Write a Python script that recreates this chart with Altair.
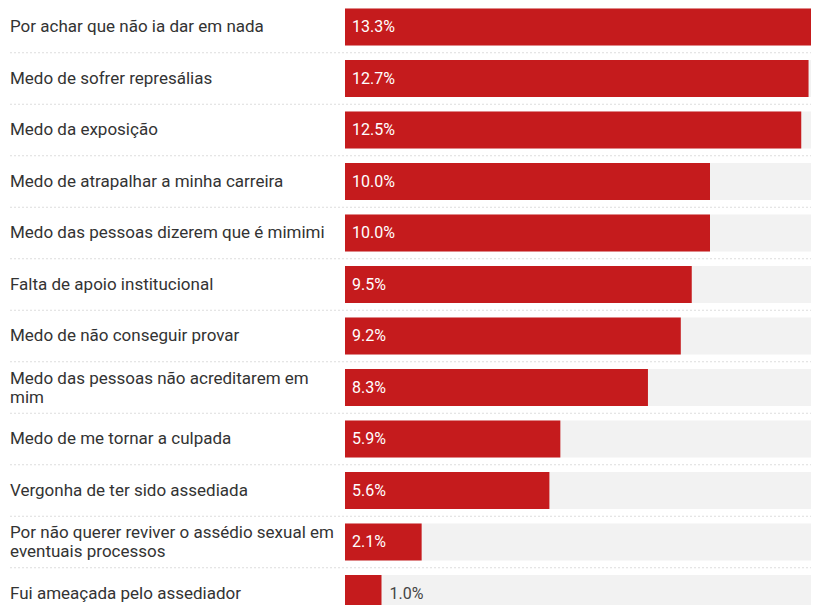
import altair as alt
import pandas as pd

categories = [
    "Por achar que não ia dar em nada",
    "Medo de sofrer represálias",
    "Medo da exposição",
    "Medo de atrapalhar a minha carreira",
    "Medo das pessoas dizerem que é mimimi",
    "Falta de apoio institucional",
    "Medo de não conseguir provar",
    "Medo das pessoas não acreditarem em\nmim",
    "Medo de me tornar a culpada",
    "Vergonha de ter sido assediada",
    "Por não querer reviver o assédio sexual em\neventuais processos",
    "Fui ameaçada pelo assediador",
]
values = [13.3, 12.7, 12.5, 10.0, 10.0, 9.5, 9.2, 8.3, 5.9, 5.6, 2.1, 1.0]

df = pd.DataFrame({"cat": categories, "val": values})
df["label"] = df["val"].map(lambda v: f"{v:.1f}%")
df["inside"] = df["val"] >= 1.5
df["multi"] = df["cat"].str.contains("\n")

W = 466
H = 597
STEP = 51.5
BAND = 37
PX_PER_PCT = 36.5
RED = "#c51b1d"
FONT = "Roboto"
n = len(categories)
pad_inner = (STEP - BAND) / STEP

y = alt.Y("cat:N", sort=categories, axis=None,
          scale=alt.Scale(paddingInner=pad_inner, paddingOuter=0,
                          range=[0.5, 0.5 + STEP * (n - pad_inner)]))
xq = alt.X("val:Q", axis=None,
           scale=alt.Scale(domain=[0, W / PX_PER_PCT], nice=False, zero=True))

base = alt.Chart(df)

seps = base.mark_rule(strokeDash=[2, 2], color="#dddddd", strokeWidth=1,
                      yOffset=STEP / 2).encode(
    y=y, x=alt.value(-335), x2=alt.value(W)
).transform_filter(alt.datum.cat != categories[-1])

track = base.mark_bar(color="#f2f2f2").encode(y=y, x=alt.value(0), x2=alt.value(W))

bars = base.mark_bar(color=RED).encode(y=y, x=xq)

cat_single = base.transform_filter(~alt.datum.multi).mark_text(
    align="left", baseline="middle", font=FONT, fontSize=17, color="#333333"
).encode(y=y, x=alt.value(-335), text="cat:N")

cat_multi = base.transform_filter(alt.datum.multi).mark_text(
    align="left", baseline="middle", font=FONT, fontSize=17, color="#333333",
    lineBreak="\n", lineHeight=19, dy=-9
).encode(y=y, x=alt.value(-335), text="cat:N")

in_text = base.transform_filter(alt.datum.inside).mark_text(
    align="left", baseline="middle", font=FONT, fontSize=16, color="white"
).encode(y=y, x=alt.value(7), text="label:N")

out_text = base.transform_filter(~alt.datum.inside).mark_text(
    align="left", baseline="middle", font=FONT, fontSize=16, color="#444444", dx=8
).encode(y=y, x=xq, text="label:N")

chart = alt.layer(seps, track, bars, cat_single, cat_multi, in_text, out_text).properties(
    width=W, height=H,
    autosize=alt.AutoSizeParams(type="none"),
    padding={"left": 337, "top": 0, "right": 0, "bottom": 0},
).configure_view(stroke=None)

chart.save("out.html", embed_options={"renderer": "svg", "actions": False})
